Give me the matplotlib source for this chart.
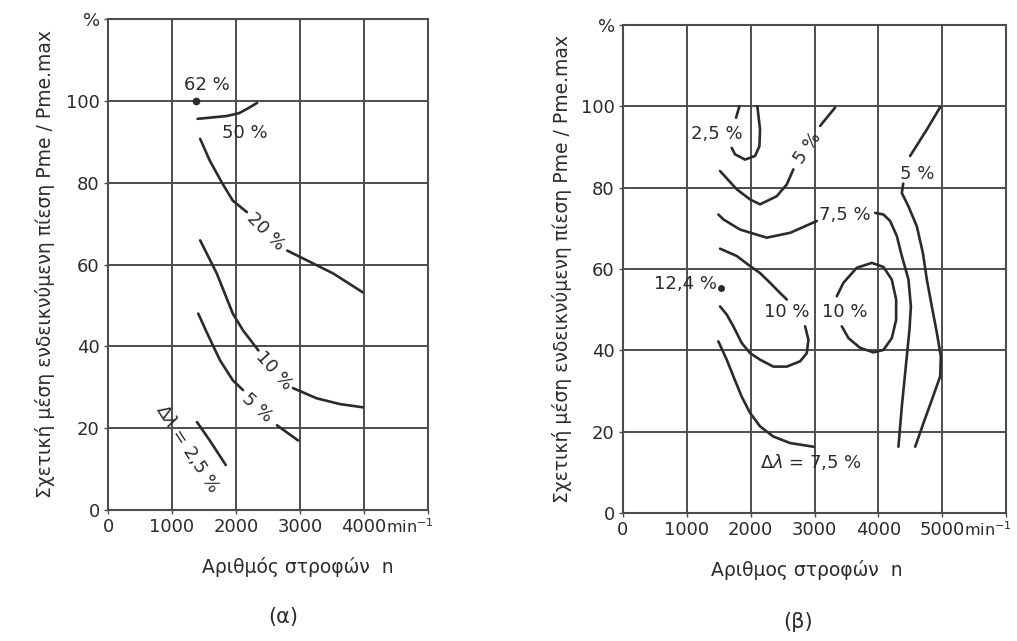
import matplotlib

matplotlib.use("Agg")
import matplotlib.pyplot as plt
from matplotlib.transforms import blended_transform_factory

plt.rcParams["font.family"] = ["DejaVu Sans"]

INK = "#2b2b2b"
GRID = "#4d4d4d"

YTICKS = [0, 20, 40, 60, 80, 100, 120]
YTICK_LABELS = ["0", "20", "40", "60", "80", "100", "%"]
YLABEL = "Σχετική μέση ενδεικνύμενη πίεση Pme / Pme.max"

# (a) part-load map, x in min^-1, y in % of Pme.max
A_XTICKS = [0, 1000, 2000, 3000, 4000, 5000]
A_XTICK_LABELS = ["0", "1000", "2000", "3000", "4000", ""]
A_POINT_62 = (1380, 100)
A_50_N = [1400, 1600, 1860, 2050, 2170, 2330]
A_50_P = [95.6, 95.9, 96.3, 97.0, 98.0, 99.5]
A_20_N1 = [1440, 1590, 1780, 1950, 2170]
A_20_P1 = [90.7, 85.4, 80.0, 75.6, 72.8]
A_20_N2 = [2800, 3110, 3520, 3980]
A_20_P2 = [63.4, 61.0, 57.8, 53.2]
A_10_N1 = [1440, 1700, 1950, 2110, 2350]
A_10_P1 = [65.9, 57.8, 48.0, 43.9, 39.0]
A_10_N2 = [2890, 3260, 3620, 3980]
A_10_P2 = [29.8, 27.3, 25.9, 25.1]
A_5_N1 = [1410, 1540, 1750, 1950, 2110]
A_5_P1 = [48.0, 43.5, 36.6, 31.7, 29.3]
A_5_N2 = [2640, 2970]
A_5_P2 = [20.7, 17.0]
A_25_N = [1390, 1590, 1840]
A_25_P = [21.5, 17.0, 11.0]

# (b) full map
B_XTICKS = [0, 1000, 2000, 3000, 4000, 5000, 6000]
B_XTICK_LABELS = ["0", "1000", "2000", "3000", "4000", "5000", ""]
B_POINT_124 = (1531, 55.3)
B_25_N1 = [1823, 1771]
B_25_P1 = [100.0, 97.2]
B_25_N2 = [1703, 1755, 1912, 2069, 2137, 2147, 2105]
B_25_P2 = [89.8, 88.2, 86.9, 87.8, 90.2, 94.3, 100.0]
B_5M_N1 = [1520, 1782, 1991, 2147, 2409, 2566, 2669]
B_5M_P1 = [84.1, 79.6, 77.1, 75.9, 77.9, 80.8, 84.5]
B_5M_N2 = [3088, 3323]
B_5M_P2 = [95.2, 99.7]
B_75U_N1 = [1494, 1572, 1834, 2252, 2618, 3036]
B_75U_P1 = [73.4, 72.2, 69.7, 67.7, 68.9, 71.8]
B_75U_N2 = [3950, 4080, 4185, 4290, 4368, 4472, 4510, 4488, 4436, 4368, 4315]
B_75U_P2 = [73.8, 73.4, 71.8, 68.1, 63.2, 57.4, 50.8, 45.1, 36.9, 26.2, 16.3]
B_10R_N = [3349, 3453, 3662, 3898, 4080, 4211, 4279, 4279, 4211, 4080,
           3923, 3715, 3532, 3428]
B_10R_P = [53.3, 56.6, 60.3, 61.5, 60.5, 57.4, 52.5, 47.5, 43.0, 40.1,
           39.5, 40.6, 43.0, 45.9]
B_5R_N1 = [4969, 4760, 4498]
B_5R_P1 = [99.8, 94.3, 87.8]
B_5R_N2 = [4390, 4368, 4472, 4603, 4697, 4760, 4838, 4917, 4979, 4969,
           4838, 4707, 4577]
B_5R_P2 = [81.0, 78.7, 75.4, 70.5, 64.0, 57.4, 50.8, 44.3, 38.5, 33.6,
           27.8, 22.1, 16.3]
B_10L_N1 = [1520, 1782, 1991, 2147, 2304, 2461, 2566]
B_10L_P1 = [65.0, 63.2, 60.7, 59.0, 56.6, 54.1, 52.5]
B_10L_N2 = [2853, 2905, 2879, 2774, 2566, 2356, 2147, 1991, 1860, 1729,
            1625, 1520]
B_10L_P2 = [45.9, 42.6, 39.3, 37.3, 36.0, 36.0, 37.7, 39.3, 41.8, 45.9,
            48.8, 50.8]
B_75L_N = [1494, 1625, 1729, 1860, 1991, 2147, 2356, 2618, 2983]
B_75L_P = [42.2, 37.7, 33.6, 28.6, 24.6, 21.3, 18.8, 17.2, 16.3]

FS = 13
FS_AX = 13.5


def frame(ax, xmax, xticks, xlabels, xlabel, unit_at, xlab_x, ylab_x):
    ax.set_xlim(0, xmax)
    ax.set_ylim(0, 120)
    ax.set_xticks(xticks)
    ax.set_xticklabels(xlabels)
    ax.set_yticks(YTICKS)
    ax.set_yticklabels(YTICK_LABELS)
    ax.grid(True, color=GRID, lw=1.4)
    for s in ax.spines.values():
        s.set_color(GRID)
        s.set_linewidth(1.5)
    ax.tick_params(direction="out", length=3, width=1, color=GRID,
                   labelcolor=INK, labelsize=FS, pad=3)
    ax.set_xlabel(xlabel, fontsize=FS_AX, color=INK)
    ax.set_ylabel(YLABEL, fontsize=FS_AX, color=INK)
    ax.xaxis.set_label_coords(xlab_x, -0.096)
    ax.yaxis.set_label_coords(ylab_x, 0.5)
    # unit sits right after the last labelled speed tick
    tr = blended_transform_factory(ax.transData, ax.transAxes)
    ax.annotate("min$^{-1}$", xy=(unit_at, 0), xycoords=tr,
                xytext=(16, -5), textcoords="offset points",
                ha="left", va="top", fontsize=11.5, color=INK)


def curve(ax, n, p):
    ax.plot(n, p, color=INK, lw=1.9, solid_capstyle="round")


def label(ax, x, y, s, rot=0, ha="center"):
    ax.text(x, y, s, fontsize=FS, color=INK, rotation=rot,
            ha=ha, va="center")


fig = plt.figure(figsize=(10.17, 6.41), dpi=100)
W, H = 1017, 641
ax1 = fig.add_axes([108 / W, 1 - 510 / H, 320 / W, 491 / H])
ax2 = fig.add_axes([623 / W, 1 - 513 / H, 383 / W, 488 / H])

frame(ax1, 5000, A_XTICKS, A_XTICK_LABELS, "Αριθμός στροφών  n", 4000,
      0.594, -0.166)
frame(ax2, 6000, B_XTICKS, B_XTICK_LABELS, "Αριθμος στροφών  n", 5000,
      0.48, -0.133)

# (a)
ax1.plot(*A_POINT_62, "o", color=INK, ms=4.5)
curve(ax1, A_50_N, A_50_P)
curve(ax1, A_20_N1, A_20_P1)
curve(ax1, A_20_N2, A_20_P2)
curve(ax1, A_10_N1, A_10_P1)
curve(ax1, A_10_N2, A_10_P2)
curve(ax1, A_5_N1, A_5_P1)
curve(ax1, A_5_N2, A_5_P2)
curve(ax1, A_25_N, A_25_P)
label(ax1, 1540, 103.8, "62 %")
label(ax1, 2140, 92.2, "50 %")
label(ax1, 2470, 68.0, "20 %", rot=-45)
label(ax1, 2590, 34.1, "10 %", rot=-48)
label(ax1, 2330, 25.0, "5 %", rot=-42)
label(ax1, 1250, 15.0, r"$\Delta\lambda$ = 2,5 %", rot=-57)

# (b)
ax2.plot(*B_POINT_124, "o", color=INK, ms=4)
for n, p in [(B_25_N1, B_25_P1), (B_25_N2, B_25_P2),
             (B_5M_N1, B_5M_P1), (B_5M_N2, B_5M_P2),
             (B_75U_N1, B_75U_P1), (B_75U_N2, B_75U_P2),
             (B_10R_N, B_10R_P), (B_5R_N1, B_5R_P1), (B_5R_N2, B_5R_P2),
             (B_10L_N1, B_10L_P1), (B_10L_N2, B_10L_P2),
             (B_75L_N, B_75L_P)]:
    curve(ax2, n, p)
label(ax2, 1469, 93.1, "2,5 %")
label(ax2, 2890, 89.8, "5 %", rot=55)
label(ax2, 3480, 73.4, "7,5 %")
label(ax2, 4603, 83.3, "5 %")
label(ax2, 1470, 56.2, "12,4 %", ha="right")
label(ax2, 2560, 49.5, "10 %")
label(ax2, 3470, 49.4, "10 %")
label(ax2, 2950, 12.5, r"$\Delta\lambda$ = 7,5 %")

fig.text(283 / W, 1 - 617 / H, "(α)", ha="center", va="center",
         fontsize=15, color=INK)
fig.text(798 / W, 1 - 622 / H, "(β)", ha="center", va="center",
         fontsize=15, color=INK)

fig.savefig("out.png", dpi=100, facecolor="white")
